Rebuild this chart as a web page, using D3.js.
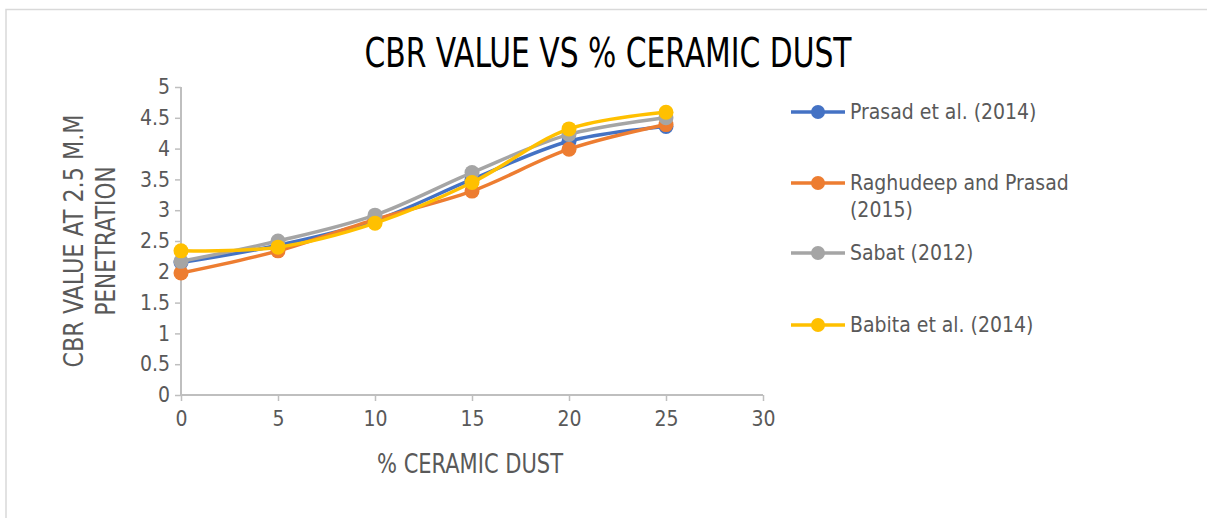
<!DOCTYPE html>
<html>
<head>
<meta charset="utf-8">
<script src="https://cdn.jsdelivr.net/npm/d3@7"></script>
<style>
  html, body { margin: 0; padding: 0; background: #fff; }
  svg { display: block; }
  text { font-family: "Liberation Sans Narrow", "DejaVu Sans Condensed", "Roboto", sans-serif; }
</style>
</head>
<body>
<svg id="chart" width="1207" height="518"></svg>
<script>
// CBR at 2.5 mm penetration against ceramic dust content
const dustPercent = [0, 5, 10, 15, 20, 25];
const prasad2014 = [2.15, 2.43, 2.83, 3.50, 4.12, 4.36];
const raghudeep2015 = [1.98, 2.34, 2.85, 3.31, 3.99, 4.39];
const sabat2012 = [2.17, 2.50, 2.92, 3.61, 4.23, 4.50];
const babita2014 = [2.34, 2.40, 2.79, 3.45, 4.32, 4.59];

const seriesNames = ["Prasad et al. (2014)", "Raghudeep and Prasad (2015)", "Sabat (2012)", "Babita et al. (2014)"];
const seriesColors = ["#4472C4", "#ED7D31", "#A5A5A5", "#FFC000"];
const xTicks = [0, 5, 10, 15, 20, 25, 30];
const yTicks = [0, 0.5, 1, 1.5, 2, 2.5, 3, 3.5, 4, 4.5, 5];

const series = [prasad2014, raghudeep2015, sabat2012, babita2014].map((vals, i) => ({
  name: seriesNames[i],
  color: seriesColors[i],
  points: dustPercent.map((x, j) => ({ x, y: vals[j] }))
}));

const svg = d3.select("#chart");

// outer chart frame
svg.append("path")
  .attr("d", "M6,518 V9.5 H1207")
  .attr("fill", "none")
  .attr("stroke", "#d9d9d9")
  .attr("stroke-width", 1.5);

const x = d3.scaleLinear().domain([0, 30]).range([181, 763]);
const y = d3.scaleLinear().domain([0, 5]).range([395, 87]);

// title
svg.append("text")
  .attr("x", 608).attr("y", 67)
  .attr("text-anchor", "middle")
  .attr("font-size", 40)
  .attr("textLength", 487)
  .attr("lengthAdjust", "spacingAndGlyphs")
  .attr("fill", "#000")
  .text("CBR VALUE VS % CERAMIC DUST");

// y axis
const yAxis = svg.append("g")
  .attr("transform", "translate(181,0)")
  .call(d3.axisLeft(y).tickValues(yTicks).tickSize(6).tickPadding(5).tickFormat(d3.format("")));
// x axis
const xAxis = svg.append("g")
  .attr("transform", "translate(0,395)")
  .call(d3.axisBottom(x).tickValues(xTicks).tickSize(6).tickPadding(10).tickFormat(d3.format("")));

[yAxis, xAxis].forEach(g => {
  g.select(".domain").attr("stroke", "#bfbfbf").attr("stroke-width", 2);
  g.selectAll(".tick line").attr("stroke", "#bfbfbf").attr("stroke-width", 1.5);
  g.selectAll(".tick text")
    .attr("font-size", 21)
    .attr("fill", "#595959")
    .attr("font-family", "Liberation Sans Narrow, DejaVu Sans Condensed, sans-serif");
});
xAxis.select(".domain").attr("d", "M181,0H763");
yAxis.select(".domain").attr("d", "M0,87V395");

// axis titles
svg.append("text")
  .attr("x", 470).attr("y", 473)
  .attr("text-anchor", "middle")
  .attr("font-size", 26)
  .attr("textLength", 186)
  .attr("lengthAdjust", "spacingAndGlyphs")
  .attr("fill", "#595959")
  .text("% CERAMIC DUST");

const yTitle = svg.append("g")
  .attr("transform", "translate(83,241) rotate(-90)");
yTitle.append("text")
  .attr("x", 0).attr("y", 0)
  .attr("text-anchor", "middle")
  .attr("font-size", 26)
  .attr("textLength", 253)
  .attr("lengthAdjust", "spacingAndGlyphs")
  .attr("fill", "#595959")
  .text("CBR VALUE AT 2.5 M.M");
yTitle.append("text")
  .attr("x", 0).attr("y", 32)
  .attr("text-anchor", "middle")
  .attr("font-size", 26)
  .attr("textLength", 149)
  .attr("lengthAdjust", "spacingAndGlyphs")
  .attr("fill", "#595959")
  .text("PENETRATION");

// smoothed series lines with markers
const line = d3.line()
  .x(d => x(d.x))
  .y(d => y(d.y))
  .curve(d3.curveCatmullRom.alpha(0.5));

const groups = svg.append("g").selectAll("g")
  .data(series)
  .join("g");

groups.append("path")
  .attr("d", d => line(d.points))
  .attr("fill", "none")
  .attr("stroke", d => d.color)
  .attr("stroke-width", 3.5)
  .attr("stroke-linejoin", "round")
  .attr("stroke-linecap", "round");

groups.selectAll("circle")
  .data(d => d.points.map(p => ({ ...p, color: d.color })))
  .join("circle")
  .attr("cx", d => x(d.x))
  .attr("cy", d => y(d.y))
  .attr("r", 7.5)
  .attr("fill", d => d.color);

// legend
const legendRows = [
  { lines: [seriesNames[0]], y: 112 },
  { lines: ["Raghudeep and Prasad", "(2015)"], y: 183 },
  { lines: [seriesNames[2]], y: 253 },
  { lines: [seriesNames[3]], y: 325 }
];
const legend = svg.append("g");
legendRows.forEach((row, i) => {
  const g = legend.append("g").attr("transform", `translate(0,${row.y})`);
  g.append("line")
    .attr("x1", 791).attr("x2", 845)
    .attr("y1", 0).attr("y2", 0)
    .attr("stroke", seriesColors[i])
    .attr("stroke-width", 3.5);
  g.append("circle")
    .attr("cx", 818).attr("cy", 0).attr("r", 7)
    .attr("fill", seriesColors[i]);
  const t = g.append("text")
    .attr("x", 850).attr("y", 7)
    .attr("font-size", 21)
    .attr("fill", "#595959");
  row.lines.forEach((s, k) => {
    t.append("tspan").attr("x", 850).attr("dy", k === 0 ? 0 : 27).text(s);
  });
});
</script>
</body>
</html>
